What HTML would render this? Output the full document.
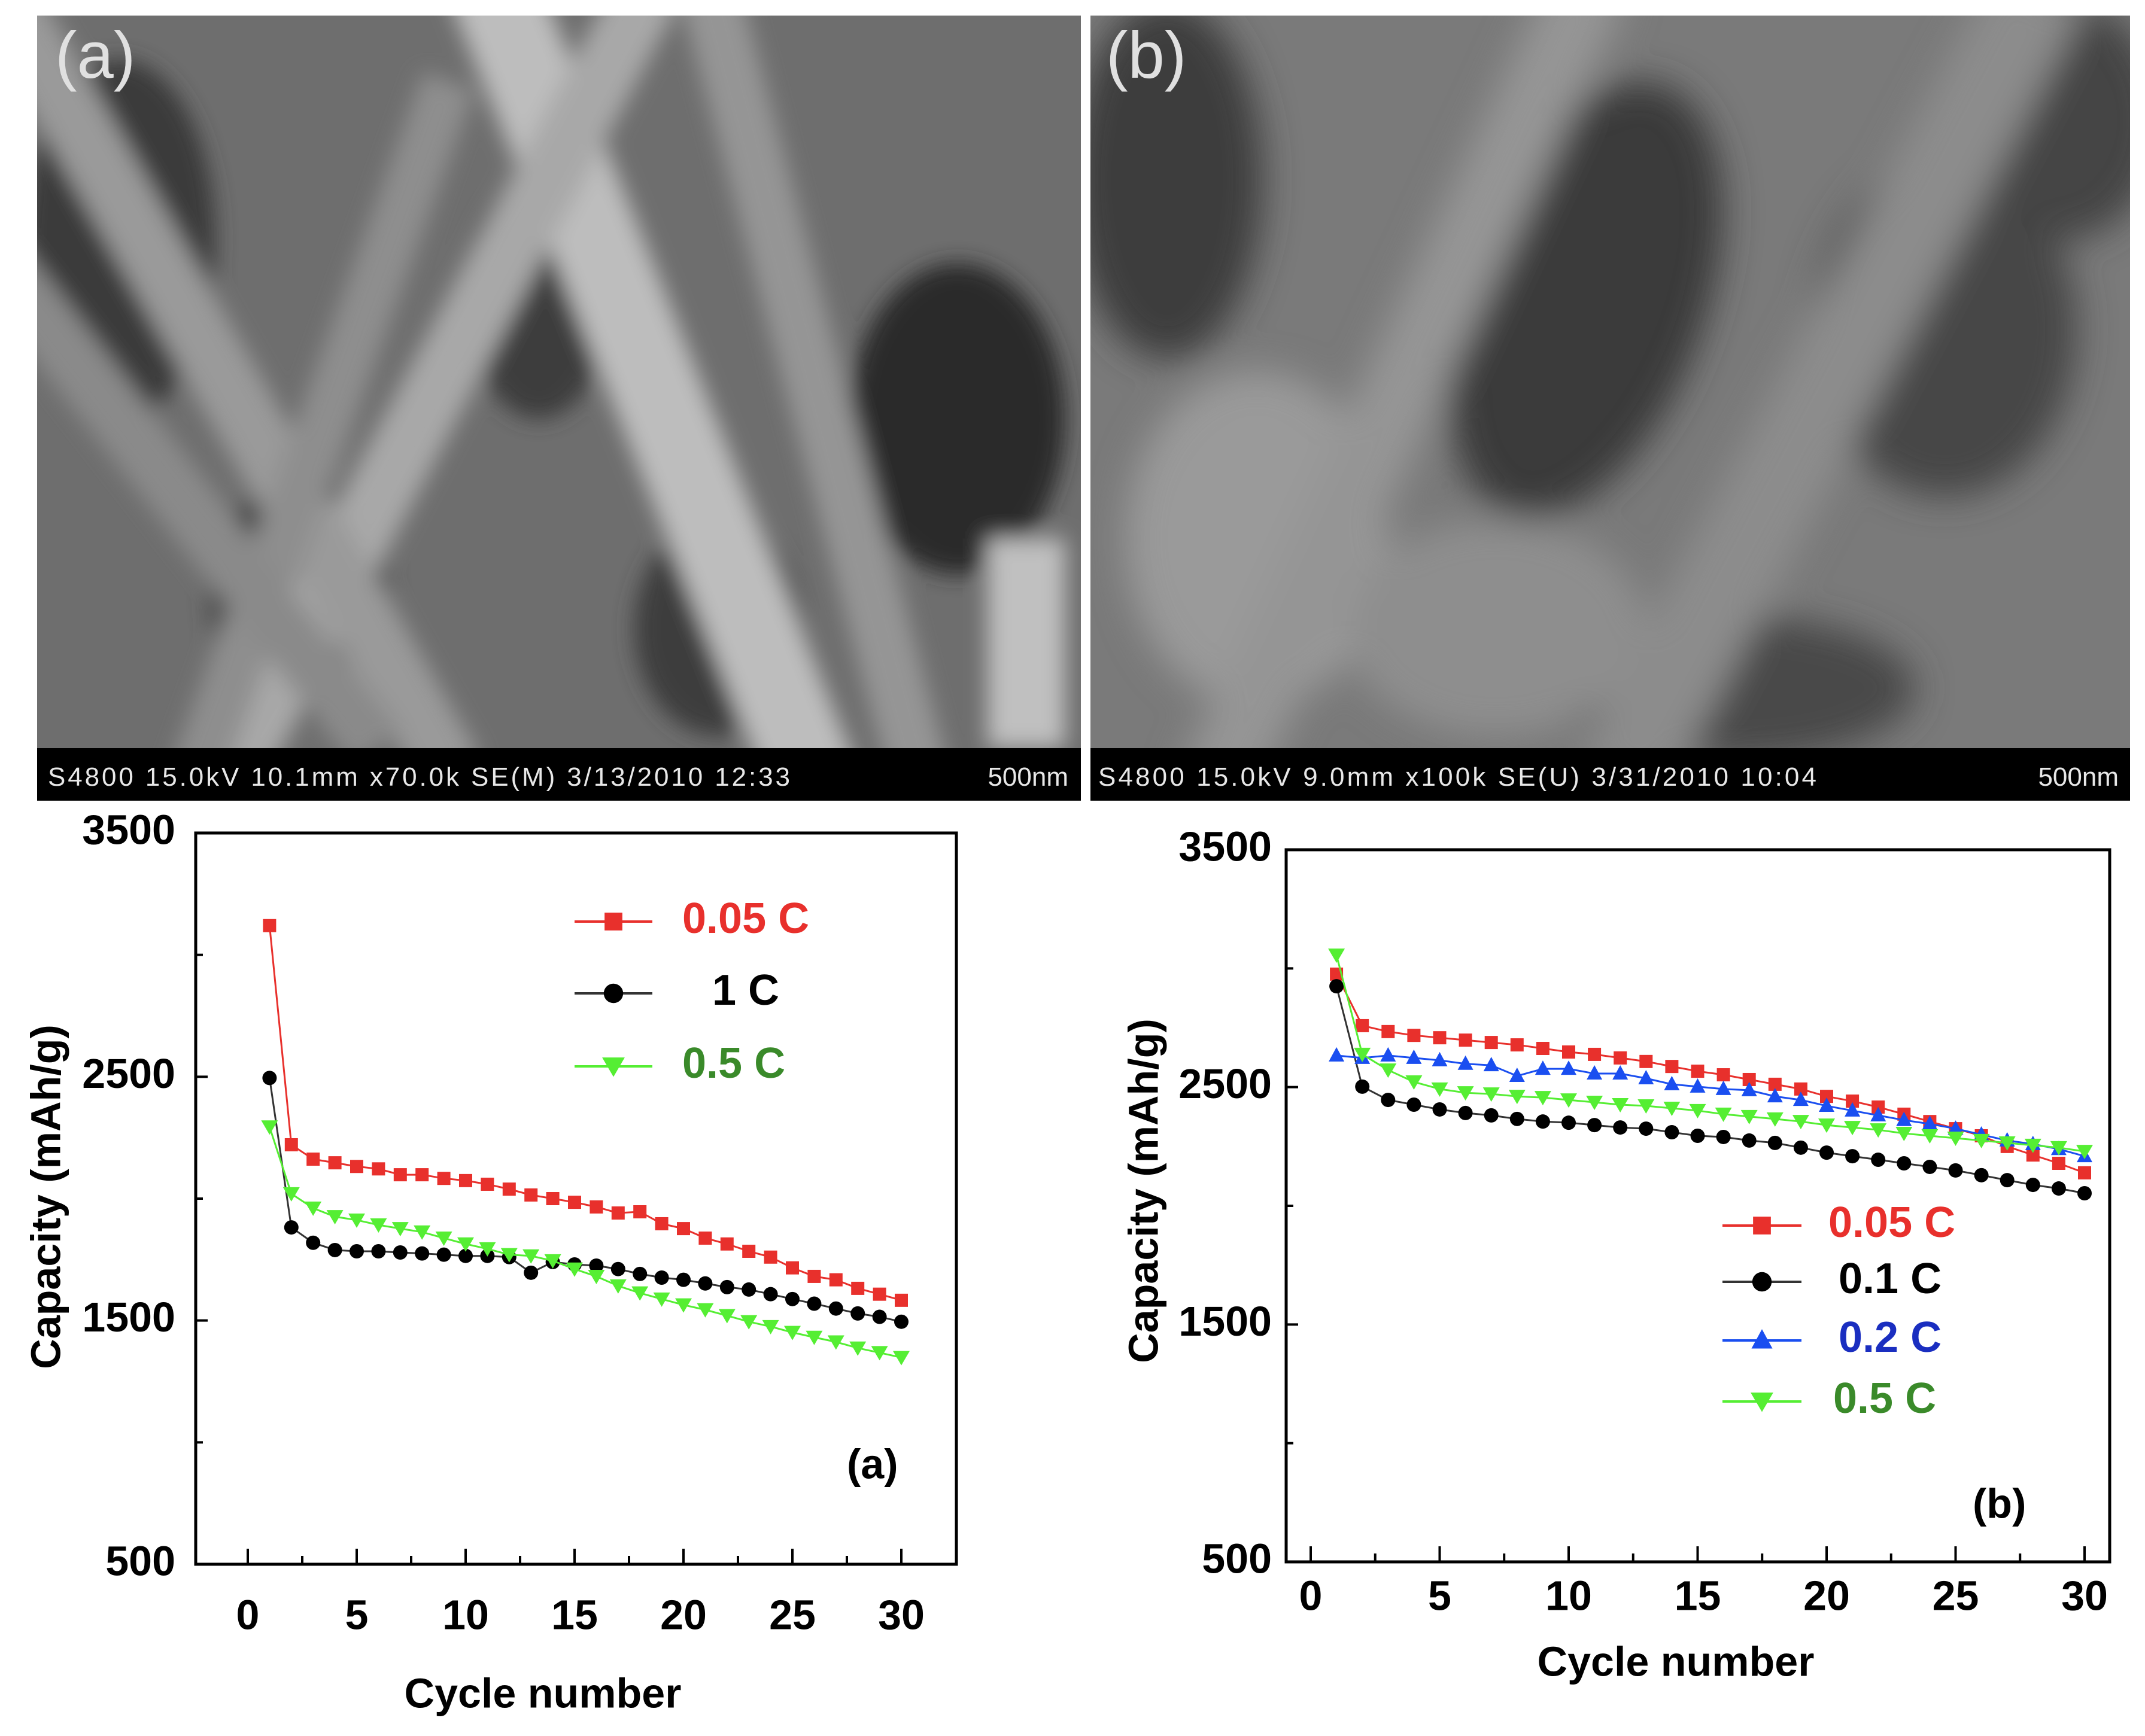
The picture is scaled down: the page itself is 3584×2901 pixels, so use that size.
<!DOCTYPE html>
<html><head><meta charset="utf-8"><style>
html,body{margin:0;padding:0;background:#fff;}
body{width:3584px;height:2901px;position:relative;overflow:hidden;font-family:"Liberation Sans",Arial,sans-serif;}
svg{position:absolute;left:0;top:0;}
</style></head><body>
<svg id="fig" width="3584" height="2901" viewBox="0 0 3584 2901" xmlns="http://www.w3.org/2000/svg">
<defs>
<filter id="blur" x="-20%" y="-20%" width="140%" height="140%"><feGaussianBlur stdDeviation="18"/></filter>
<filter id="blur2" x="-20%" y="-20%" width="140%" height="140%"><feGaussianBlur stdDeviation="30"/></filter>
<clipPath id="ca"><rect x="62" y="26" width="1744" height="1226"/></clipPath>
<clipPath id="cb"><rect x="1822" y="26" width="1737" height="1226"/></clipPath>
</defs>
<g>
<rect x="62" y="26" width="1744" height="1226" fill="#6e6e6e"/>
<g clip-path="url(#ca)" filter="url(#blur)">
<ellipse cx="200" cy="400" rx="160" ry="300" fill="#3a3a3a"/>
<ellipse cx="1600" cy="700" rx="180" ry="260" fill="#2a2a2a"/>
<ellipse cx="900" cy="500" rx="120" ry="200" fill="#3c3c3c"/>
<ellipse cx="500" cy="1000" rx="150" ry="200" fill="#404040"/>
<ellipse cx="1200" cy="1050" rx="140" ry="180" fill="#3e3e3e"/>
<rect x="1000" y="-100" width="150" height="1500" fill="#bdbdbd" transform="rotate(-22 1075 600)"/>
<rect x="700" y="-100" width="110" height="1500" fill="#a8a8a8" transform="rotate(28 755 600)"/>
<rect x="300" y="-100" width="110" height="1500" fill="#9a9a9a" transform="rotate(-30 355 600)"/>
<rect x="1300" y="-100" width="100" height="1500" fill="#959595" transform="rotate(-15 1350 600)"/>
<rect x="500" y="100" width="90" height="1300" fill="#8e8e8e" transform="rotate(20 545 700)"/>
<rect x="150" y="100" width="100" height="1300" fill="#8a8a8a" transform="rotate(-38 200 700)"/>
<rect x="1650" y="900" width="130" height="350" fill="#c0c0c0"/>
</g>
<rect x="62" y="1250" width="1744" height="88" fill="#000"/>
<text x="80" y="1313" font-size="44" fill="#e8e8e8" textLength="1240">S4800 15.0kV 10.1mm x70.0k SE(M) 3/13/2010 12:33</text>
<text x="1785" y="1313" font-size="44" fill="#e8e8e8" text-anchor="end">500nm</text>
<text x="92" y="130" font-size="110" fill="#e0e0e0">(a)</text>
</g>
<g>
<rect x="1822" y="26" width="1737" height="1226" fill="#7a7a7a"/>
<g clip-path="url(#cb)" filter="url(#blur2)">
<ellipse cx="1950" cy="300" rx="160" ry="300" fill="#3e3e3e"/>
<ellipse cx="2650" cy="500" rx="200" ry="380" fill="#3a3a3a" transform="rotate(20 2650 500)"/>
<ellipse cx="3250" cy="550" rx="220" ry="280" fill="#474747"/>
<ellipse cx="3450" cy="200" rx="160" ry="200" fill="#444"/>
<ellipse cx="2100" cy="900" rx="220" ry="280" fill="#9a9a9a"/>
<ellipse cx="2900" cy="1150" rx="300" ry="120" fill="#4a4a4a"/>
<ellipse cx="2500" cy="1050" rx="250" ry="180" fill="#8e8e8e"/>
<rect x="2300" y="-100" width="130" height="1500" fill="#959595" transform="rotate(25 2365 600)"/>
<rect x="3000" y="-100" width="160" height="1500" fill="#8c8c8c" transform="rotate(28 3080 600)"/>
</g>
<rect x="1822" y="1250" width="1737" height="88" fill="#000"/>
<text x="1835" y="1313" font-size="44" fill="#e8e8e8" textLength="1200">S4800 15.0kV 9.0mm x100k SE(U) 3/31/2010 10:04</text>
<text x="3540" y="1313" font-size="44" fill="#e8e8e8" text-anchor="end">500nm</text>
<text x="1848" y="130" font-size="110" fill="#e0e0e0">(b)</text>
</g>
<g id="chartA"></g>
<g id="chartB"></g>
</svg>
<script>
const xTicks = [0,5,10,15,20,25,30];
const yTicks = [500,1500,2500,3500];
const cycles = [1,2,3,4,5,6,7,8,9,10,11,12,13,14,15,16,17,18,19,20,21,22,23,24,25,26,27,28,29,30];
const aRed = [3120,2221,2162,2147,2132,2122,2098,2098,2083,2074,2059,2039,2015,2000,1985,1966,1941,1946,1897,1877,1838,1814,1784,1760,1716,1681,1667,1632,1608,1583];
const aBlack = [2495,1882,1819,1789,1784,1784,1779,1775,1770,1765,1765,1760,1696,1740,1730,1725,1711,1691,1676,1667,1652,1637,1627,1608,1588,1569,1549,1529,1515,1495];
const aGreen = [2294,2020,1961,1926,1912,1892,1877,1863,1838,1814,1794,1770,1765,1745,1711,1681,1642,1613,1588,1564,1544,1520,1495,1475,1451,1431,1412,1387,1368,1348];
const bRed = [2976,2759,2734,2718,2708,2698,2688,2678,2663,2648,2638,2623,2608,2587,2567,2552,2532,2512,2492,2461,2441,2416,2386,2355,2325,2295,2250,2214,2179,2139];
const bBlack = [2925,2502,2446,2426,2406,2391,2381,2366,2355,2350,2340,2330,2325,2310,2295,2290,2275,2265,2245,2224,2209,2194,2179,2164,2149,2129,2108,2088,2073,2053];
const bBlue = [2633,2623,2633,2623,2613,2598,2592,2547,2577,2577,2557,2557,2537,2512,2502,2492,2487,2461,2446,2421,2401,2381,2361,2345,2325,2300,2275,2260,2239,2209];
const bGreen = [3056,2638,2572,2522,2492,2476,2471,2461,2456,2446,2436,2426,2421,2411,2401,2386,2376,2366,2355,2340,2330,2320,2305,2295,2285,2275,2265,2255,2245,2229];
const legendA = ["0.05 C","1 C","0.5 C"];
const legendB = ["0.05 C","0.1 C","0.2 C","0.5 C"];

const NS="http://www.w3.org/2000/svg";
function mk(parent,tag,attrs,text){const e=document.createElementNS(NS,tag);for(const k in attrs)e.setAttribute(k,attrs[k]);if(text!==undefined)e.textContent=text;parent.appendChild(e);return e;}

function marker(g,shape,cx,cy,fill){
  let e;
  if(shape==='sq'){e=mk(g,'rect',{x:cx-11,y:cy-11,width:22,height:22,fill:fill});}
  else if(shape==='ci'){e=mk(g,'circle',{cx:cx,cy:cy,r:12,fill:fill});}
  else if(shape==='up'){e=mk(g,'polygon',{points:`${cx},${cy-14} ${cx-13},${cy+10} ${cx+13},${cy+10}`,fill:fill});}
  else {e=mk(g,'polygon',{points:`${cx-14},${cy-11} ${cx+14},${cy-11} ${cx},${cy+13}`,fill:fill});}
  return e;
}

function drawChart(root,cfg){
  const X=v=>cfg.x0+(v/30)*(cfg.x30-cfg.x0);
  const Y=v=>cfg.bottom-(v-500)/3000*(cfg.bottom-cfg.top);
  const frame=mk(root,'rect',{x:cfg.left,y:cfg.top,width:cfg.right-cfg.left,height:cfg.bottom-cfg.top,fill:'none',stroke:'#000','stroke-width':5});
  
  
  // minor/major x ticks
  for(let v=0;v<=30;v+=2.5){
    const major=(v%5===0);
    const t=mk(root,'line',{x1:X(v),x2:X(v),y1:cfg.bottom,y2:cfg.bottom-(major?26:14),stroke:'#000','stroke-width':4});
    
    
  }
  for(let v=500;v<=3500;v+=500){
    const major=((v-500)%1000===0);
    const t=mk(root,'line',{x1:cfg.left,x2:cfg.left+(major?20:12),y1:Y(v),y2:Y(v),stroke:'#000','stroke-width':4});
    
    
  }
  xTicks.forEach(v=>{
    const t=mk(root,'text',{x:X(v),y:cfg.xlabY,'font-size':70,'font-weight':'bold','text-anchor':'middle','dominant-baseline':'middle'},String(v));
    
    
  });
  yTicks.forEach(v=>{
    const t=mk(root,'text',{x:cfg.ylabR,y:Y(v),'font-size':70,'font-weight':'bold','text-anchor':'end','dominant-baseline':'middle'},String(v));
    
    
  });
  const xt=mk(root,'text',{x:cfg.xtX,y:cfg.xtY,'font-size':70,'font-weight':'bold','text-anchor':'middle','dominant-baseline':'middle'},'Cycle number');
  
  
  const yt=mk(root,'text',{x:0,y:0,'font-size':70,'font-weight':'bold','text-anchor':'middle','dominant-baseline':'middle',transform:`translate(${cfg.ytX},${cfg.ytY}) rotate(-90)`},'Capacity (mAh/g)');
  
  
  cfg.series.forEach((s,si)=>{
    const g=mk(root,'g',{});
    
    
    const pts=s.vals.map((v,i)=>X(cycles[i])+','+Y(v)).join(' ');
    mk(g,'polyline',{points:pts,fill:'none',stroke:s.line,'stroke-width':3});
    s.vals.forEach((v,i)=>{
      const m=marker(g,s.shape,X(cycles[i]),Y(v),s.fill);
      
      
    });
    const lg=mk(root,'g',{});
    
    
    const ly=cfg.legY[si];
    mk(lg,'line',{x1:cfg.legX1,x2:cfg.legX2,y1:ly,y2:ly,stroke:s.line,'stroke-width':4});
    marker(lg,s.shape,(cfg.legX1+cfg.legX2)/2,ly,s.fill).setAttribute('transform',`translate(${(cfg.legX1+cfg.legX2)/2},${ly}) scale(1.35) translate(${-(cfg.legX1+cfg.legX2)/2},${-ly})`);
    mk(lg,'text',{x:cfg.legTX[si],y:ly,'font-size':72,'font-weight':'bold',fill:s.text,'dominant-baseline':'middle'},cfg.legend[si]);
  });
  const pl=mk(root,'text',{x:cfg.plX,y:cfg.plY,'font-size':70,'font-weight':'bold','dominant-baseline':'middle'},cfg.panel);
  
  
}

const A=document.getElementById('chartA');


drawChart(A,{left:327,right:1598,top:1392,bottom:2614,x0:414,x30:1506,xlabY:2704,ylabR:293,xtX:907,xtY:2835,ytX:82,ytY:2000,
  legX1:960,legX2:1090,legY:[1540,1660,1782],legTX:[1140,1190,1140],legend:legendA,panel:'(a)',plX:1415,plY:2452,
  series:[{key:'0-05c',vals:aRed,shape:'sq',fill:'#e8302c',line:'#e8302c',text:'#e8302c'},
          {key:'1c',vals:aBlack,shape:'ci',fill:'#000',line:'#333',text:'#000'},
          {key:'0-5c',vals:aGreen,shape:'dn',fill:'#55ee33',line:'#55ee33',text:'#3a8a2a'}]});
const B=document.getElementById('chartB');


drawChart(B,{left:2149,right:3525,top:1420,bottom:2610,x0:2190,x30:3483,xlabY:2672,ylabR:2125,xtX:2800,xtY:2782,ytX:1916,ytY:1990,
  legX1:2878,legX2:3010,legY:[2048,2142,2240,2342],legTX:[3055,3072,3072,3063],legend:legendB,panel:'(b)',plX:3296,plY:2518,
  series:[{key:'0-05c',vals:bRed,shape:'sq',fill:'#e8302c',line:'#e8302c',text:'#e8302c'},
          {key:'0-1c',vals:bBlack,shape:'ci',fill:'#000',line:'#333',text:'#000'},
          {key:'0-2c',vals:bBlue,shape:'up',fill:'#1a4ef0',line:'#1a4ef0',text:'#1a2ec0'},
          {key:'0-5c',vals:bGreen,shape:'dn',fill:'#55ee33',line:'#55ee33',text:'#3a8a2a'}]});
</script>
</body></html>
